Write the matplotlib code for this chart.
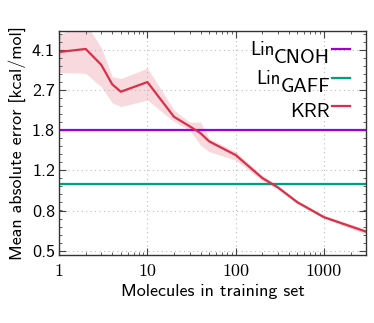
import matplotlib
matplotlib.use("Agg")
import matplotlib.pyplot as plt
from matplotlib.ticker import LogLocator, NullFormatter, FixedLocator
import numpy as np

# data
n_train = [1, 2, 3, 4, 5, 10, 20, 30, 40, 50, 100, 200, 300, 500, 1000, 3000]
krr_mae = [4.0, 4.13, 3.5, 2.85, 2.64, 2.92, 2.03, 1.84, 1.71, 1.57, 1.36, 1.07, 0.97, 0.83, 0.71, 0.61]
krr_lo = [3.23, 3.2, 2.78, 2.35, 2.26, 2.42, 1.93, 1.77, 1.51, 1.41, 1.29, 1.04, 0.95, 0.815, 0.70, 0.595]
krr_hi = [4.8, 5.4, 4.2, 3.09, 3.03, 3.38, 2.18, 1.92, 1.92, 1.62, 1.41, 1.10, 0.99, 0.845, 0.725, 0.625]
lin_cnoh = 1.77
lin_gaff = 1.0

legend_labels = ["CNOH", "GAFF", "KRR"]
legend_prefix = ["Lin", "Lin", ""]

ytick_vals = [0.5, 0.76, 1.16, 1.77, 2.69, 4.1]
ytick_labels = ["0.5", "0.8", "1.2", "1.8", "2.7", "4.1"]
xtick_vals = [1, 10, 100, 1000]
xtick_labels = ["1", "10", "100", "1000"]

purple = "#9b00d9"
green = "#00a07a"
red = "#d9304a"

fig = plt.figure(figsize=(3.74, 3.23), dpi=100)
ax = fig.add_axes([0.158, 0.2105, 0.821, 0.6945])

ax.axhline(lin_cnoh, color=purple, lw=1.6)
ax.axhline(lin_gaff, color=green, lw=1.6)
ax.fill_between(n_train, krr_lo, krr_hi, color=red, alpha=0.18, lw=0)
ax.plot(n_train, krr_mae, color=red, lw=1.6)

ax.set_xscale("log")
ax.set_yscale("log")
ax.set_xlim(1, 3000)
ax.set_ylim(0.478, 5.0)

ax.set_xticks(xtick_vals)
ax.set_xticklabels(xtick_labels, fontfamily="cmr10", fontsize=13)
ax.xaxis.set_minor_locator(LogLocator(base=10, subs=np.arange(2, 10)))
ax.xaxis.set_minor_formatter(NullFormatter())

ax.set_yticks(ytick_vals)
ax.set_yticklabels(ytick_labels, fontfamily="cmss10", fontsize=13)
step = (4.1 / 0.5) ** (1 / 25)
ax.yaxis.set_minor_locator(FixedLocator(0.5 * step ** np.arange(-1, 30)))
ax.yaxis.set_minor_formatter(NullFormatter())

ax.tick_params(which="both", direction="in", top=True, right=True, color="#444444")
ax.tick_params(which="major", length=5, width=0.8)
ax.tick_params(which="minor", length=2.5, width=0.6)
ax.tick_params(axis="x", pad=6)
ax.tick_params(axis="y", pad=3)
for s in ax.spines.values():
    s.set_color("#333333")
    s.set_linewidth(1.0)

ax.grid(True, which="major", ls=(0, (1, 3)), color="#bbbbbb", lw=0.8)

ax.set_xlabel("Molecules in training set", fontfamily="cmss10", fontsize=13)
ax.set_ylabel("Mean absolute error [kcal/mol]", fontfamily="cmss10", fontsize=13)

# legend drawn by hand: label right-aligned, short line after it,
# "Lin" raised in front of the first two labels
handle_y = [0.917, 0.790, 0.664]
text_y = [0.855, 0.728, 0.617]
for lab, pre, col, hy, ty in zip(legend_labels, legend_prefix, [purple, green, red], handle_y, text_y):
    ax.plot([0.889, 0.948], [hy, hy], color=col, lw=1.6, transform=ax.transAxes, clip_on=False)
    t = ax.text(0.883, ty, lab, ha="right", va="baseline", family="cmss10",
                fontsize=14.5, transform=ax.transAxes)
    if pre:
        ax.annotate(pre, xy=(0, 0), xycoords=t, xytext=(0, 8), textcoords="offset pixels",
                    ha="right", va="bottom", family="cmss10", fontsize=13.5)

fig.savefig("out.png", dpi=100)
